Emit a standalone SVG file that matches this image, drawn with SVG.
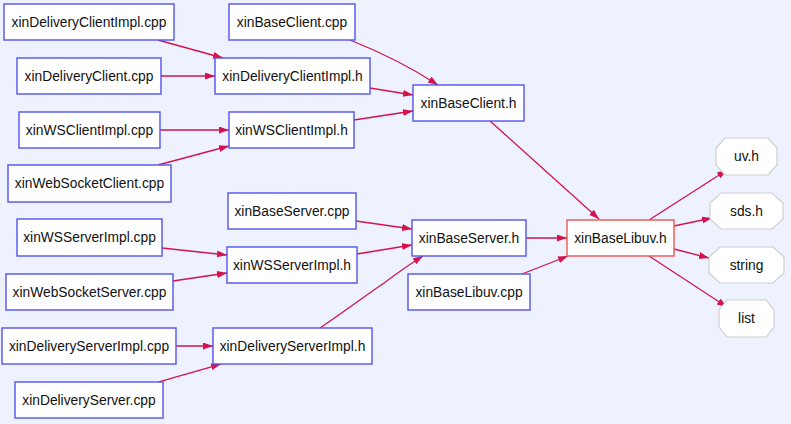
<svg xmlns="http://www.w3.org/2000/svg" width="791" height="424" viewBox="0 0 791 424">
<style>
.n rect{fill:#fff;stroke:#5353ee;stroke-width:1.4}
.r rect{fill:#fff;stroke:#ee5555;stroke-width:1.4}
.o polygon{fill:#fff;stroke:#cfcfcf;stroke-width:1.2}
text{font-family:"Liberation Sans",Arial,sans-serif;font-size:13.8px;fill:#111;text-anchor:middle;dominant-baseline:central}
.e path{fill:none;stroke:#d3134d;stroke-width:1.3;marker-end:url(#a)}
</style>
<defs>
<marker id="a" markerUnits="userSpaceOnUse" markerWidth="11" markerHeight="8" refX="10" refY="3.5" orient="auto">
<path d="M0,0 L10,3.5 L0,7 z" fill="#d3134d"/>
</marker>
</defs>
<rect width="791" height="424" fill="#edf2fe"/>
<g class="e" id="edges">
<path d="M158,40 L223,58"/>
<path d="M161,76 L215,76"/>
<path d="M350,40 C380,52 412,68 438,85"/>
<path d="M370,88 L413,95"/>
<path d="M160,130 L229,130"/>
<path d="M158,165 L229,146"/>
<path d="M354,120 L413,111"/>
<path d="M490,121 L599,219"/>
<path d="M356,221 L412,229"/>
<path d="M357,254 L412,245"/>
<path d="M320,328 C345,311 365,296 384,283 C396,274 410,264 423,256"/>
<path d="M526,238 L567,238"/>
<path d="M522,274 L568,256"/>
<path d="M162,248 L227,255"/>
<path d="M173,281 L227,273"/>
<path d="M176,346 L213,346"/>
<path d="M158,382 L221,364"/>
<path d="M649,220 L727,170"/>
<path d="M674,226 L712,218"/>
<path d="M674,249 L709,258"/>
<path d="M649,256 L727,307"/>
</g>
<g class="n" id="dci_cpp"><rect x="4" y="4" width="170" height="36"/><text x="89" y="22">xinDeliveryClientImpl.cpp</text></g>
<g class="n" id="bc_cpp"><rect x="229" y="4" width="126" height="36"/><text x="292" y="22">xinBaseClient.cpp</text></g>
<g class="n" id="dc_cpp"><rect x="17" y="58" width="144" height="36"/><text x="89" y="76">xinDeliveryClient.cpp</text></g>
<g class="n" id="dci_h"><rect x="215" y="58" width="155" height="36"/><text x="292.5" y="76">xinDeliveryClientImpl.h</text></g>
<g class="n" id="bc_h"><rect x="413" y="85" width="111" height="36"/><text x="468.5" y="103">xinBaseClient.h</text></g>
<g class="n" id="wsci_cpp"><rect x="19" y="112" width="141" height="36"/><text x="89.5" y="130">xinWSClientImpl.cpp</text></g>
<g class="n" id="wsci_h"><rect x="229" y="112" width="125" height="36"/><text x="291.5" y="130">xinWSClientImpl.h</text></g>
<g class="n" id="wsc_cpp"><rect x="8" y="165" width="163" height="37"/><text x="89.5" y="183.5">xinWebSocketClient.cpp</text></g>
<g class="n" id="bs_cpp"><rect x="228" y="193" width="128" height="36"/><text x="292" y="211">xinBaseServer.cpp</text></g>
<g class="n" id="bs_h"><rect x="412" y="220" width="114" height="36"/><text x="469" y="238">xinBaseServer.h</text></g>
<g class="r" id="bl_h"><rect x="567" y="220" width="107" height="36"/><text x="620.5" y="238">xinBaseLibuv.h</text></g>
<g class="n" id="wssi_cpp"><rect x="17" y="219" width="145" height="37"/><text x="89.5" y="237.5">xinWSServerImpl.cpp</text></g>
<g class="n" id="wssi_h"><rect x="227" y="247" width="130" height="36"/><text x="292" y="265">xinWSServerImpl.h</text></g>
<g class="n" id="wss_cpp"><rect x="6" y="274" width="167" height="36"/><text x="89.5" y="292">xinWebSocketServer.cpp</text></g>
<g class="n" id="bl_cpp"><rect x="408" y="274" width="122" height="36"/><text x="469" y="292">xinBaseLibuv.cpp</text></g>
<g class="n" id="dsi_cpp"><rect x="2" y="328" width="174" height="36"/><text x="89" y="346">xinDeliveryServerImpl.cpp</text></g>
<g class="n" id="dsi_h"><rect x="213" y="328" width="159" height="36"/><text x="292.5" y="346">xinDeliveryServerImpl.h</text></g>
<g class="n" id="ds_cpp"><rect x="15" y="382" width="148" height="36"/><text x="89" y="400">xinDeliveryServer.cpp</text></g>
<g class="o" id="uv_h"><polygon points="725,138 768,138 777,148 777,165 768,175 725,175 716,165 716,148"/><text x="746.5" y="156.5">uv.h</text></g>
<g class="o" id="sds_h"><polygon points="721,193 772,193 783,203 783,219 772,229 721,229 710,219 710,203"/><text x="746.5" y="211">sds.h</text></g>
<g class="o" id="string"><polygon points="720,247 773,247 784,257 784,273 773,283 720,283 709,273 709,257"/><text x="746.5" y="265">string</text></g>
<g class="o" id="list"><polygon points="727,300 766,300 774,310 774,327 766,337 727,337 719,327 719,310"/><text x="746.5" y="318.5">list</text></g>
</svg>
